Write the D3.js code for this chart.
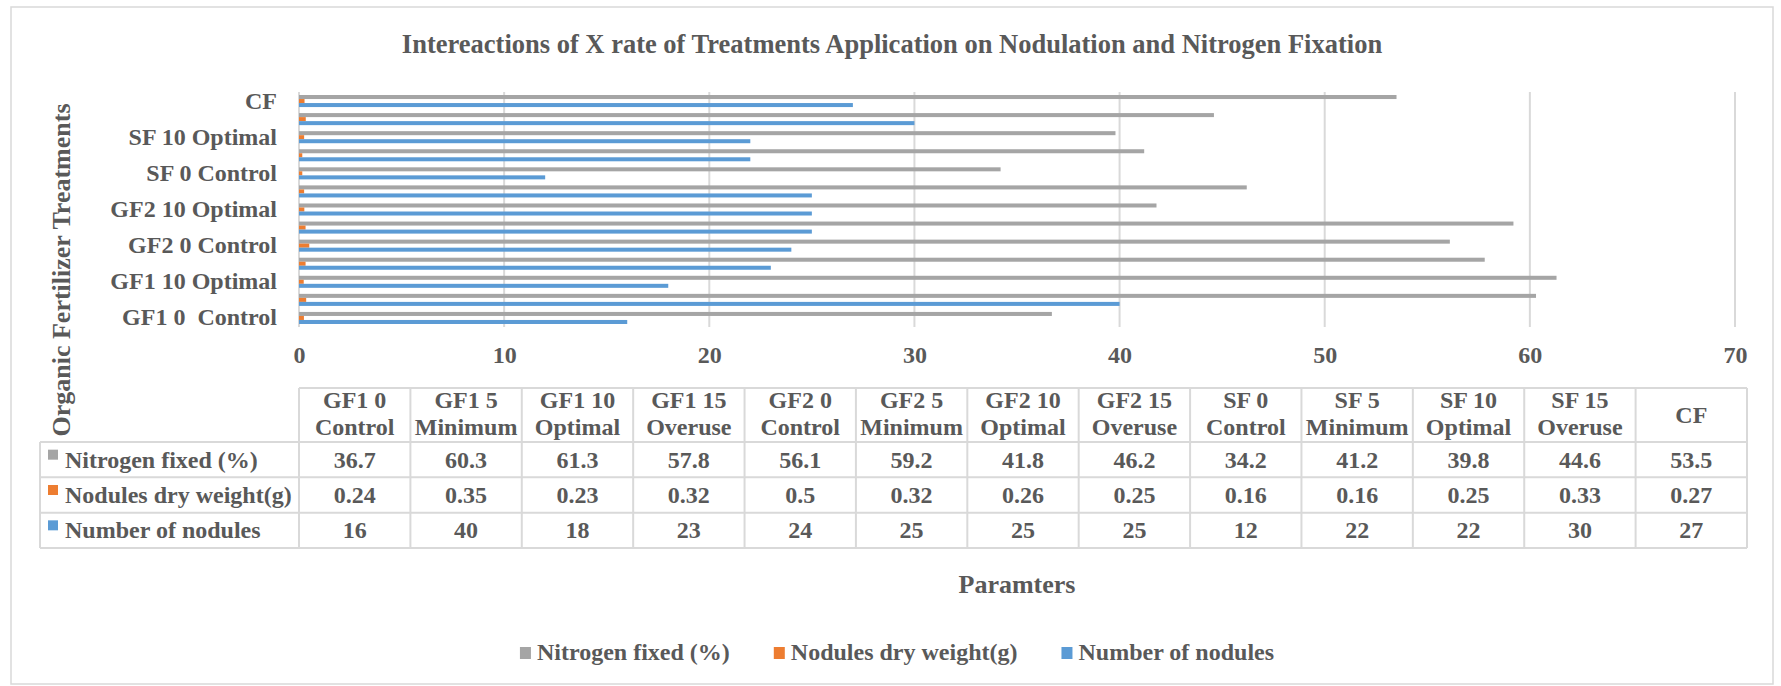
<!DOCTYPE html>
<html>
<head>
<meta charset="utf-8">
<script src="https://cdn.jsdelivr.net/npm/d3@7"></script>
<style>
    body { margin: 0; background: #fff; }
    svg text { font-family: 'Liberation Serif', 'Times New Roman', serif; font-weight: bold; fill: #595959; }
</style>
</head>
<body>
<div class="chart"></div>
<script>
// categories as they appear on the axis (bottom to top) and in the table (left to right)
const categories = ['GF1 0  Control', 'GF1 5 Minimum', 'GF1 10 Optimal', 'GF1 15 Overuse',
    'GF2 0 Control', 'GF2 5 Minimum', 'GF2 10 Optimal', 'GF2 15 Overuse',
    'SF 0 Control', 'SF 5 Minimum', 'SF 10 Optimal', 'SF 15 Overuse', 'CF']

const seriesNames = ['Nitrogen fixed (%)', 'Nodules dry weight(g)', 'Number of nodules']
const nitrogenFixed = [36.7, 60.3, 61.3, 57.8, 56.1, 59.2, 41.8, 46.2, 34.2, 41.2, 39.8, 44.6, 53.5]
const nodulesDryWeight = [0.24, 0.35, 0.23, 0.32, 0.5, 0.32, 0.26, 0.25, 0.16, 0.16, 0.25, 0.33, 0.27]
const numberOfNodules = [16, 40, 18, 23, 24, 25, 25, 25, 12, 22, 22, 30, 27]

const xTicks = [0, 10, 20, 30, 40, 50, 60, 70]

const title = 'Intereactions of X rate of Treatments Application on Nodulation and Nitrogen Fixation'
const yTitle = 'Organic Fertilizer Treatments'
const xTitle = 'Paramters'

const seriesValues = [nitrogenFixed, nodulesDryWeight, numberOfNodules]
const colours = { 'Nitrogen fixed (%)': '#a5a5a5', 'Nodules dry weight(g)': '#ed7d31', 'Number of nodules': '#5b9bd5' }
const lineColour = '#d9d9d9'

const width = 1781, height = 686
const plot = { left: 299, right: 1735, top: 92, bottom: 327 }
const table = { left: 40, colLeft: 299, right: 1747, top: 388, header: 442, bottom: 548 }

const svg = d3.select('.chart').append('svg')
    .attr('width', width)
    .attr('height', height)

// chart area border
svg.append('rect')
    .attr('x', 11).attr('y', 7)
    .attr('width', 1762).attr('height', 677)
    .attr('fill', '#fff')
    .attr('stroke', lineColour)
    .attr('stroke-width', 1.5)

svg.append('text')
    .attr('x', 892).attr('y', 53)
    .attr('text-anchor', 'middle')
    .style('font-size', '26.5px')
    .text(title)

// scales
const x = d3.scaleLinear().domain([0, 70]).range([plot.left, plot.right])
const y = d3.scaleBand()
    .domain(categories.slice().reverse())
    .range([plot.top, plot.bottom])
    .paddingInner(1 / 3)
    .paddingOuter(1 / 6)
const ySeries = d3.scaleBand().domain(seriesNames).range([0, y.bandwidth()])

// gridlines
svg.append('g').selectAll('line')
    .data(xTicks)
    .join('line')
    .attr('x1', d => x(d)).attr('x2', d => x(d))
    .attr('y1', plot.top).attr('y2', plot.bottom)
    .attr('stroke', lineColour)
    .attr('stroke-width', 2)

// bars
const rows = categories.map((c, i) => ({ category: c, values: seriesNames.map((s, j) => ({ series: s, value: seriesValues[j][i] })) }))

svg.append('g').selectAll('g')
    .data(rows)
    .join('g')
    .attr('transform', d => `translate(0, ${y(d.category)})`)
    .selectAll('rect')
    .data(d => d.values)
    .join('rect')
    .attr('x', x(0))
    .attr('y', d => ySeries(d.series))
    .attr('width', d => x(d.value) - x(0))
    .attr('height', ySeries.bandwidth())
    .attr('fill', d => colours[d.series])

// value axis labels
const gX = svg.append('g')
    .attr('transform', `translate(0, ${plot.bottom})`)
    .call(d3.axisBottom(x).tickValues(xTicks).tickSize(0).tickFormat(d3.format('d')))
gX.select('.domain').remove()
gX.selectAll('text')
    .attr('dy', null)
    .attr('y', 36)
    .attr('fill', null)
    .style('font-size', '24px')
gX.attr('font-family', null).attr('font-size', null)

// category axis labels, every second one
const gY = svg.append('g')
    .attr('transform', 'translate(277, 0)')
    .call(d3.axisLeft(y).tickValues(categories.filter((d, i) => i % 2 === 0)).tickSize(0).tickPadding(0))
gY.select('.domain').remove()
gY.selectAll('text')
    .attr('dy', null)
    .attr('y', 7.5)
    .attr('fill', null)
    .style('font-size', '24px')
    .style('white-space', 'pre')
gY.attr('font-family', null).attr('font-size', null)

svg.append('text')
    .attr('transform', 'translate(70, 270) rotate(-90)')
    .attr('text-anchor', 'middle')
    .style('font-size', '26px')
    .text(yTitle)

// data table
const cols = d3.scaleBand().domain(categories).range([table.colLeft, table.right])
const tableRows = d3.scaleBand().domain(seriesNames).range([table.header, table.bottom])
const gT = svg.append('g').attr('class', 'data-table')

const hLines = [{ y: table.top, x1: table.colLeft }]
    .concat(tableRows.domain().map(s => ({ y: tableRows(s), x1: table.left })))
    .concat([{ y: table.bottom, x1: table.left }])
gT.selectAll('.hline')
    .data(hLines)
    .join('line')
    .attr('class', 'hline')
    .attr('x1', d => d.x1).attr('x2', table.right)
    .attr('y1', d => d.y).attr('y2', d => d.y)
    .attr('stroke', lineColour).attr('stroke-width', 2)

const vLines = [{ x: table.left, y1: table.header }]
    .concat(categories.map(c => ({ x: cols(c), y1: table.top })))
    .concat([{ x: table.right, y1: table.top }])
gT.selectAll('.vline')
    .data(vLines)
    .join('line')
    .attr('class', 'vline')
    .attr('x1', d => d.x).attr('x2', d => d.x)
    .attr('y1', d => d.y1).attr('y2', table.bottom)
    .attr('stroke', lineColour).attr('stroke-width', 2)

// header cells: treatment on first line, rate on second
const headerMid = (table.top + table.header) / 2
gT.selectAll('.head')
    .data(categories)
    .join('text')
    .attr('class', 'head')
    .attr('text-anchor', 'middle')
    .style('font-size', '24px')
    .each(function (c) {
        const cut = c.trim().lastIndexOf(' ')
        const lines = cut < 0 ? [c] : [c.slice(0, cut).trim(), c.slice(cut + 1)]
        const cx = cols(c) + cols.bandwidth() / 2
        d3.select(this).selectAll('tspan')
            .data(lines)
            .join('tspan')
            .attr('x', cx)
            .attr('y', (d, i) => lines.length === 1 ? headerMid + 8 : headerMid - 7 + i * 27)
            .text(d => d)
    })

// row labels with legend keys
const rowLabel = gT.selectAll('.rowlabel')
    .data(seriesNames)
    .join('g')
    .attr('class', 'rowlabel')
    .attr('transform', s => `translate(0, ${tableRows(s) + tableRows.bandwidth() / 2})`)
rowLabel.append('rect')
    .attr('x', 48).attr('y', -10)
    .attr('width', 10).attr('height', 10)
    .attr('fill', s => colours[s])
rowLabel.append('text')
    .attr('x', 65).attr('y', 8)
    .style('font-size', '24px')
    .text(s => s)

// value cells
gT.selectAll('.cells')
    .data(seriesNames)
    .join('g')
    .attr('class', 'cells')
    .selectAll('text')
    .data((s, j) => categories.map((c, i) => ({ series: s, category: c, value: seriesValues[j][i] })))
    .join('text')
    .attr('x', d => cols(d.category) + cols.bandwidth() / 2)
    .attr('y', d => tableRows(d.series) + tableRows.bandwidth() / 2 + 8)
    .attr('text-anchor', 'middle')
    .style('font-size', '24px')
    .text(d => String(d.value))

svg.append('text')
    .attr('x', 1017).attr('y', 593)
    .attr('text-anchor', 'middle')
    .style('font-size', '26px')
    .text(xTitle)

// legend, centred under the table
const legend = svg.append('g').attr('class', 'legend')
const items = legend.selectAll('g')
    .data(seriesNames)
    .join('g')
items.append('rect')
    .attr('y', -13)
    .attr('width', 11).attr('height', 12)
    .attr('fill', s => colours[s])
items.append('text')
    .attr('x', 17)
    .style('font-size', '24px')
    .text(s => s)
let offset = 0
items.each(function () {
    d3.select(this).attr('transform', `translate(${offset}, 0)`)
    offset += 17 + d3.select(this).select('text').node().getComputedTextLength() + 44
})
offset -= 44
legend.attr('transform', `translate(${897 - offset / 2}, 660)`)
</script>
</body>
</html>
